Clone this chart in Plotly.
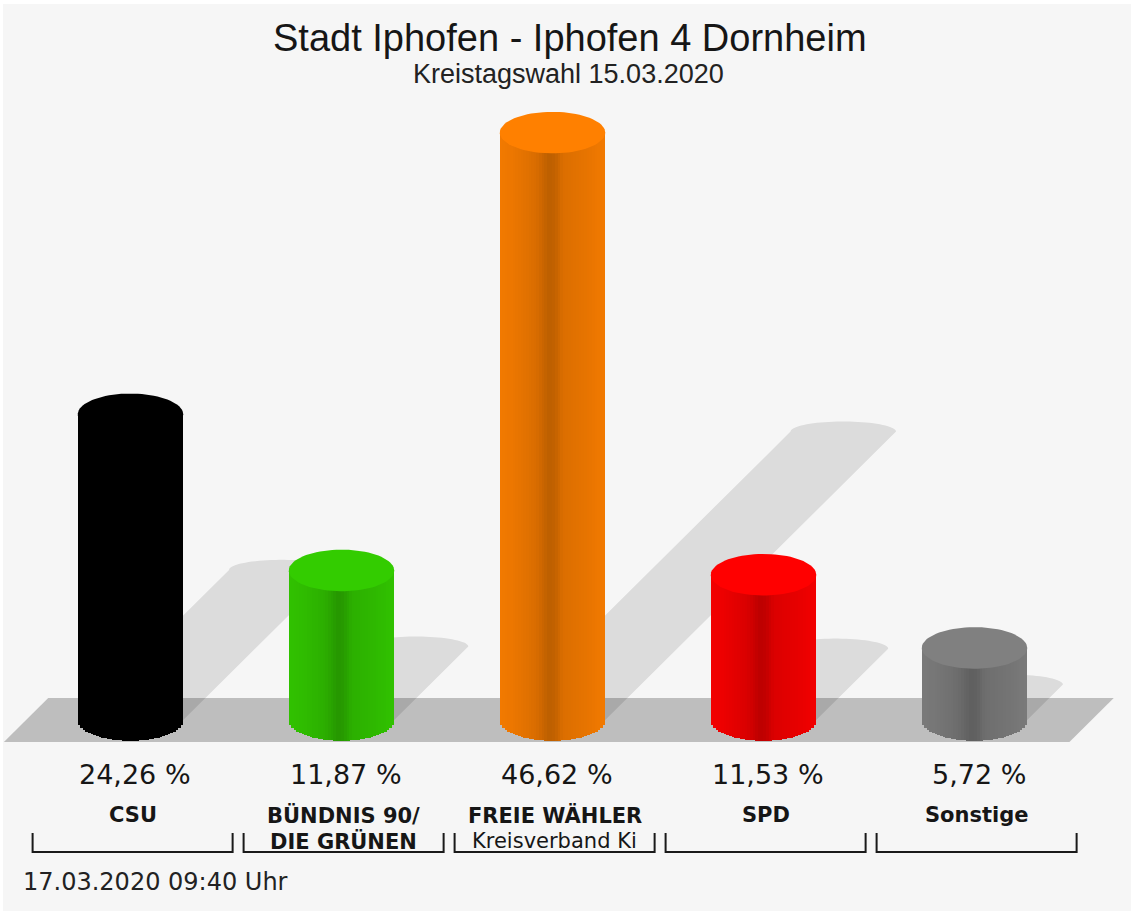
import numpy as np
import plotly.graph_objects as go

# ---------------- data ----------------
party_line1 = ["CSU", "BÜNDNIS 90/", "FREIE WÄHLER", "SPD", "Sonstige"]
party_line2 = ["", "DIE GRÜNEN", "Kreisverband Ki", "", ""]
line2_bold = [True, True, False, True, True]
values = [24.26, 11.87, 46.62, 11.53, 5.72]
pct_labels = ["24,26 %", "11,87 %", "46,62 %", "11,53 %", "5,72 %"]
base_colors = [(0, 0, 0), (51, 204, 0), (255, 128, 0), (255, 0, 0), (128, 128, 128)]
title_text = "Stadt Iphofen - Iphofen 4 Dornheim"
subtitle_text = "Kreistagswahl 15.03.2020"
footer_text = "17.03.2020 09:40 Uhr"

# ---------------- geometry / style ----------------
W_PX, H_PX = 1131, 911
X0_PX, PX_PER_X = 130.5, 211.0      # pixel of category 0, pixels per category
Y0_PX, PX_PER_Y = 720.0, 12.6       # pixel of value 0, pixels per percent
BAR_W = 0.5                          # bar width in category units
RY = 1.65                            # ellipse half height (value units)
N_SLICES = 40
FONT_T = "Liberation Sans, Arial, Helvetica, sans-serif"
FONT_L = "DejaVu Sans, Verdana, sans-serif"
BG = "#f6f6f6"
TXT = "#161616"


def px_x(p):
    return (p - X0_PX) / PX_PER_X


def px_y(p):
    return (Y0_PX - p) / PX_PER_Y


xr = [px_x(0), px_x(W_PX)]
yr = [px_y(H_PX), px_y(0)]

n = len(values)
xs = np.arange(n, dtype=float)

# shading profile across cylinder width
prof_t = [0.0, 0.15, 0.35, 0.47, 0.52, 0.60, 0.80, 1.0]
prof_f = [0.95, 0.92, 0.85, 0.74, 0.76, 0.86, 0.90, 0.95]


def shade(c, t):
    f = np.interp(t, prof_t, prof_f)
    return "rgb(%d,%d,%d)" % tuple(int(round(min(255, v * f))) for v in c)


fig = go.Figure()

# ---- floor (shape, below traces) ----
FL_L, FL_R, SKEW, FD = -0.60, n - 1 + 0.45, 0.21, 1.75
shapes = [dict(type="path", xref="x", yref="y", layer="below",
               path=f"M {FL_L},{-FD} L {FL_L + SKEW},{FD} L {FL_R + SKEW},{FD} L {FL_R},{-FD} Z",
               fillcolor="#bebebe", line=dict(width=0))]

# ---- shadows (derived from values, drawn below the cylinders) ----
SX = 0.495 * PX_PER_Y / PX_PER_X   # horizontal shift per percent (category units)
SY = 0.491                          # vertical shift per percent
RS = 0.8                            # shadow cap half height
for i, v in enumerate(values):
    cx, sy = xs[i] + SX * v, SY * v
    th = np.linspace(np.pi, 0, 40)
    pts = [(xs[i] - BAR_W / 2, 0.0)]
    pts += list(zip(cx + BAR_W / 2 * np.cos(th), sy + RS * np.sin(th)))
    pts += [(xs[i] + BAR_W / 2, 0.0)]
    path = "M " + " L ".join(f"{a:.4f},{b:.4f}" for a, b in pts) + " Z"
    shapes.append(dict(type="path", xref="x", yref="y", layer="below", path=path,
                       fillcolor="rgba(0,0,0,0.105)", line=dict(width=0)))

# ---- cylinder bodies (vertical slices) ----
for j in range(N_SLICES):
    t = (j + 0.5) / N_SLICES
    u = 2 * t - 1
    b = -RY * np.sqrt(max(0.0, 1 - u * u))
    fig.add_trace(go.Bar(
        x=xs + (t - 0.5) * BAR_W,
        y=[v - b for v in values],
        base=[b] * n,
        width=BAR_W / N_SLICES * 1.15,
        marker=dict(color=[shade(c, t) for c in base_colors], line=dict(width=0)),
        hoverinfo="skip", showlegend=False))

# ---- top ellipses ----
th = np.linspace(0, 2 * np.pi, 80)
for i, v in enumerate(values):
    c = base_colors[i]
    fig.add_trace(go.Scatter(
        x=xs[i] + BAR_W / 2 * np.cos(th), y=v + RY * np.sin(th),
        fill="toself", mode="lines", line=dict(width=0, color="rgba(0,0,0,0)"),
        fillcolor="rgb(%d,%d,%d)" % c, hoverinfo="skip", showlegend=False))

# ---- brackets under labels ----
BH = 0.474
yb_lo, yb_hi = px_y(852), px_y(833)
for i in range(n):
    x0, x1 = xs[i] + 0.01 - BH, xs[i] + 0.01 + BH
    shapes.append(dict(type="path", xref="x", yref="y",
                       path=f"M {x0},{yb_hi} L {x0},{yb_lo} L {x1},{yb_lo} L {x1},{yb_hi}",
                       line=dict(color="#1a1a1a", width=2)))

# white edges of the picture
shapes.append(dict(type="rect", xref="paper", yref="paper", x0=0, x1=1, y0=1 - 4 / H_PX, y1=1,
                   fillcolor="white", line=dict(width=0), layer="below"))
shapes.append(dict(type="rect", xref="paper", yref="paper", x0=0, x1=3 / W_PX, y0=0, y1=1,
                   fillcolor="white", line=dict(width=0), layer="below"))

ann = []
ann.append(dict(text=title_text, x=570 / W_PX, y=1 - 38 / H_PX, xref="paper", yref="paper",
                xanchor="center", yanchor="middle", showarrow=False,
                font=dict(family=FONT_T, size=38, color=TXT)))
ann.append(dict(text=subtitle_text, x=568 / W_PX, y=1 - 74 / H_PX, xref="paper", yref="paper",
                xanchor="center", yanchor="middle", showarrow=False,
                font=dict(family=FONT_T, size=27, color="#222")))
for i in range(n):
    ann.append(dict(text=pct_labels[i], x=xs[i] + 0.02, y=px_y(774), xref="x", yref="y",
                    xanchor="center", yanchor="middle", showarrow=False,
                    font=dict(family=FONT_L, size=27, color=TXT)))
    ann.append(dict(text="<b>" + party_line1[i] + "</b>", x=xs[i] + 0.01, y=px_y(815),
                    xref="x", yref="y", xanchor="center", yanchor="middle", showarrow=False,
                    font=dict(family=FONT_L, size=21, color=TXT)))
    if party_line2[i]:
        t2 = "<b>" + party_line2[i] + "</b>" if line2_bold[i] else party_line2[i]
        ann.append(dict(text=t2, x=xs[i] + 0.01, y=px_y(841), xref="x", yref="y",
                        xanchor="center", yanchor="middle", showarrow=False,
                        font=dict(family=FONT_L, size=21, color=TXT)))
ann.append(dict(text=footer_text, x=21 / W_PX, y=1 - 882 / H_PX, xref="paper", yref="paper",
                xanchor="left", yanchor="middle", showarrow=False,
                font=dict(family=FONT_L, size=24, color="#222")))

fig.update_layout(
    width=W_PX, height=H_PX, margin=dict(l=0, r=0, t=0, b=0),
    paper_bgcolor=BG, plot_bgcolor=BG,
    barmode="overlay", bargap=0, showlegend=False,
    xaxis=dict(range=xr, visible=False, fixedrange=True),
    yaxis=dict(range=yr, visible=False, fixedrange=True),
    shapes=shapes, annotations=ann,
)

fig.write_html("out.html", config={"displayModeBar": False},
               post_script="document.body.style.margin='0';document.body.style.overflow='hidden';")
